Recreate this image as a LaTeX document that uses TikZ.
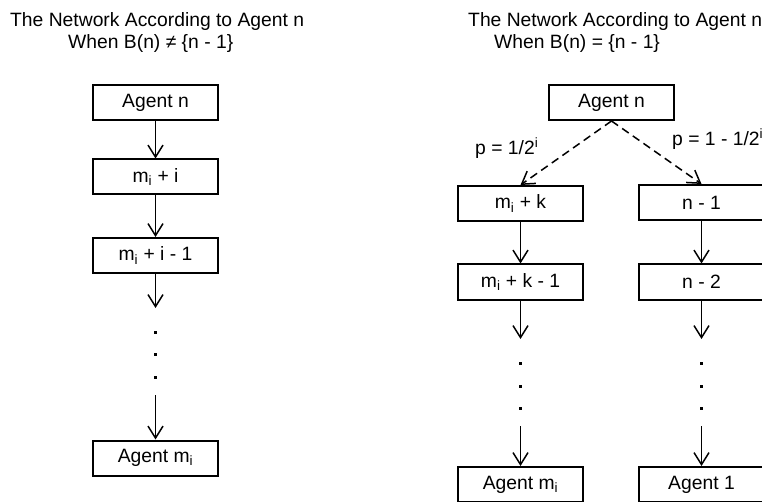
\documentclass[tikz,border=0pt]{standalone}
\usepackage{fontspec}
\setmainfont{Liberation Sans}
\usetikzlibrary{arrows.meta}
\begin{document}
\begin{tikzpicture}[x=1pt,y=-1pt,
  font=\fontsize{19.3}{23}\selectfont,
  box/.style={draw, line width=2pt, minimum width=125pt, minimum height=35pt, inner sep=0pt},
  arr/.style={line width=1.5pt, -{Straight Barb[length=12pt,width=15pt]}},
  dsh/.style={arr, dash pattern=on 8pt off 5pt},
  dot/.style={rectangle, fill, inner sep=0pt, minimum size=3pt}]
\useasboundingbox (0,0) rectangle (762,502);
% titles
\node[anchor=base west, inner sep=0pt] (tl1) at (10,26.7) {The Network According to Agent n};
\node[anchor=base west, inner sep=0pt] (tl2) at (68,48.3) {When B(n) ≠ \{n - 1\}};
\node[anchor=base west, inner sep=0pt] (tr1) at (468,26.7) {The Network According to Agent n};
\node[anchor=base west, inner sep=0pt] (tr2) at (494,48.3) {When B(n) = \{n - 1\}};
% left column
\node[box] (a1) at (155.5,102.5) {Agent n};
\node[box] (a2) at (155.5,177) {m\textsubscript{i} + i};
\node[box] (a3) at (155.5,255.5) {m\textsubscript{i} + i - 1};
\node[box] (a4) at (155.5,458) {Agent m\textsubscript{i}};
\coordinate (a3e) at (155.5,308);
\node[dot] (ad1) at (155.5,332) {};
\node[dot] (ad2) at (155.5,354) {};
\node[dot] (ad3) at (155.5,377) {};
\coordinate (a4s) at (155.5,395);
\draw[arr] (a1) -- (a2);
\draw[arr] (a2) -- (a3);
\draw[arr] (a3) -- (a3e);
\draw[arr] (a4s) -- (a4);
% right
\node[box] (b0) at (611.5,102.5) {Agent n};
\node[box] (b1) at (520.5,203.5) {m\textsubscript{i} + k};
\node[box] (b2) at (520.5,282) {m\textsubscript{i} + k - 1};
\node[box] (b3) at (520.5,484.5) {Agent m\textsubscript{i}};
\node[box] (c1) at (701.5,202.5) {n - 1};
\node[box] (c2) at (701.5,282) {n - 2};
\node[box] (c3) at (701.5,484.5) {Agent 1};
\coordinate (b2e) at (520.5,339);
\coordinate (c2e) at (701.5,339);
\node[dot] (bd1) at (520.5,363) {};
\node[dot] (bd2) at (520.5,386) {};
\node[dot] (bd3) at (520.5,408) {};
\node[dot] (cd1) at (701.5,363) {};
\node[dot] (cd2) at (701.5,386) {};
\node[dot] (cd3) at (701.5,408) {};
\coordinate (b3s) at (520.5,426);
\coordinate (c3s) at (701.5,426);
\draw[dsh] (b0.south) -- (b1.north);
\draw[dsh] (b0.south) -- (c1.north);
\draw[arr] (b1) -- (b2);
\draw[arr] (b2) -- (b2e);
\draw[arr] (b3s) -- (b3);
\draw[arr] (c1) -- (c2);
\draw[arr] (c2) -- (c2e);
\draw[arr] (c3s) -- (c3);
\node[anchor=base west, inner sep=0pt] (pl) at (475,155) {p = 1/2\textsuperscript{i}};
\node[anchor=base west, inner sep=0pt] (pr) at (672,146) {p = 1 - 1/2\textsuperscript{i}};
\end{tikzpicture}
\end{document}
